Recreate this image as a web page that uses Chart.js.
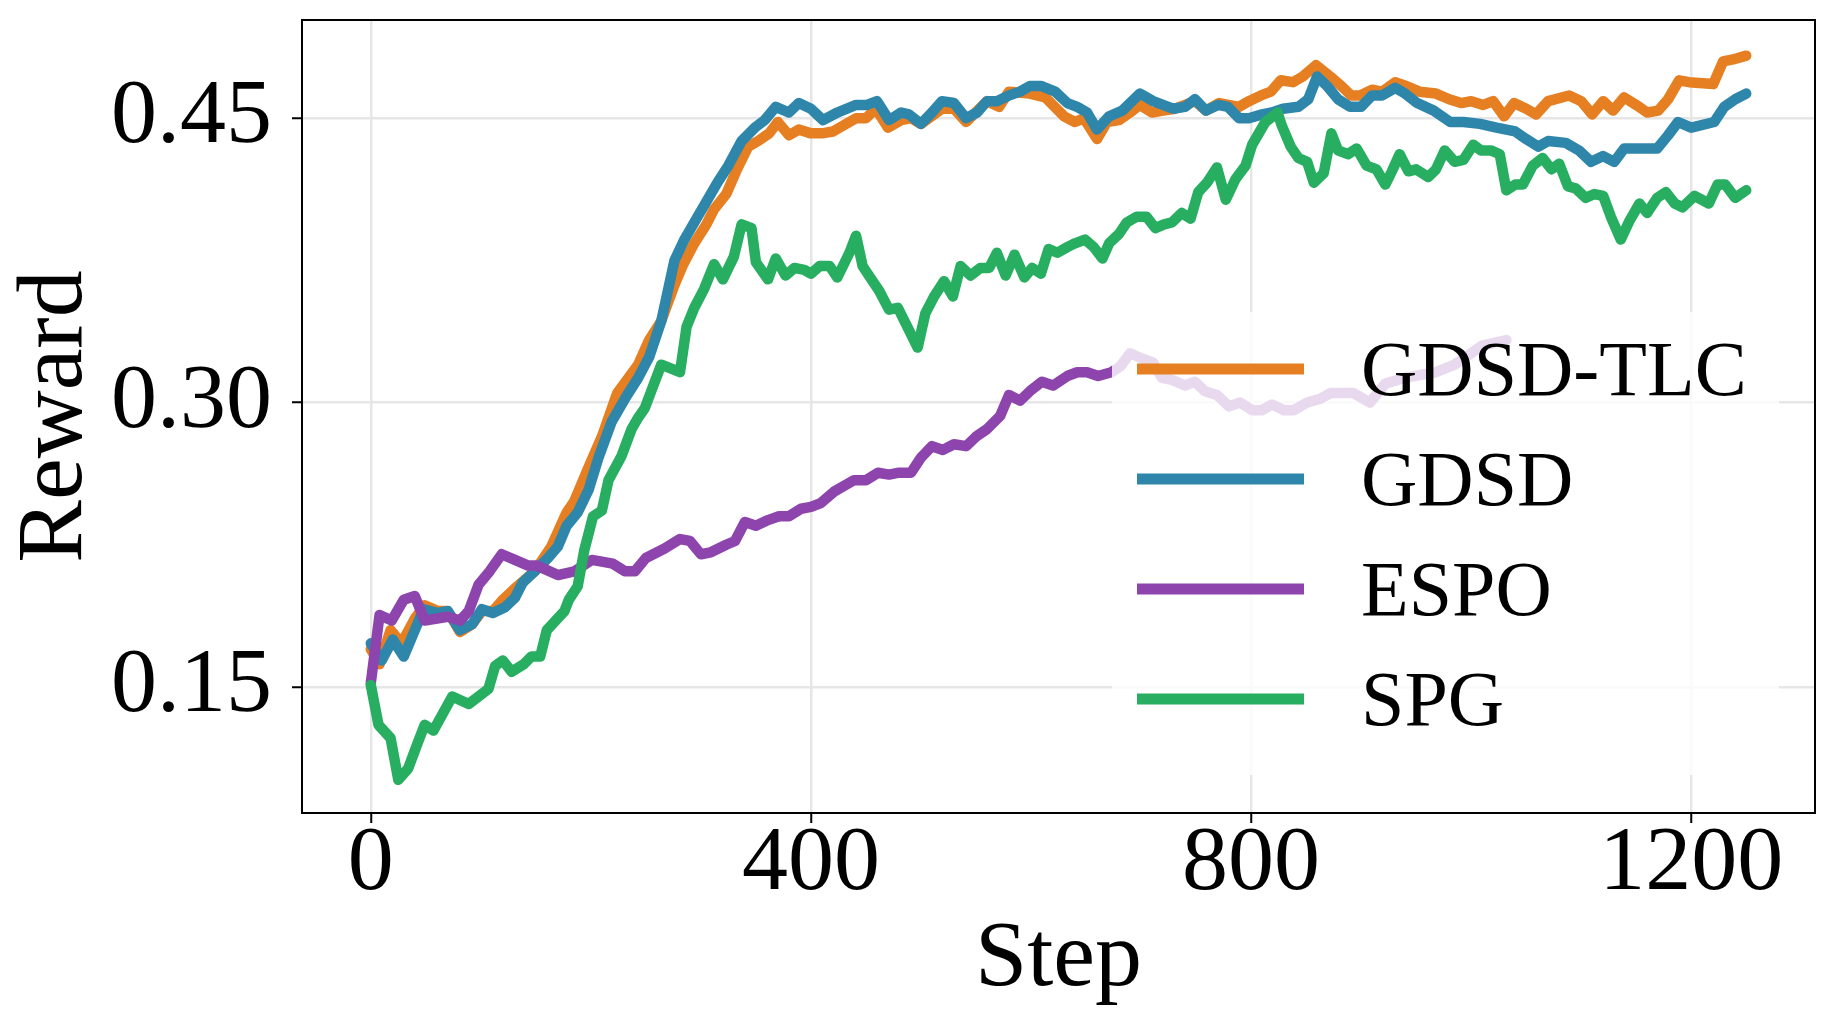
<!DOCTYPE html>
<html>
<head>
<meta charset="utf-8">
<script src="https://cdn.jsdelivr.net/npm/chart.js@4.4.0/dist/chart.umd.min.js"></script>
<style>
  html, body { margin: 0; padding: 0; background: #fff; }
</style>
</head>
<body>
<canvas id="rewardChart" width="1836" height="1036"></canvas>
<script>
// tick positions
const xTickValues = [0, 400, 800, 1200];
const yTickValues = [0.15, 0.30, 0.45];

const seriesNames = ['GDSD-TLC', 'GDSD', 'ESPO', 'SPG'];
const seriesColors = ['#E67E22', '#2E86AB', '#8E44AD', '#27AE60'];

// GDSD-TLC
const gdsdTlcSteps = [0, 8, 18, 28, 40, 49, 61, 70, 81, 92, 101, 111, 120, 133, 149, 164, 178, 185, 198, 210,
  224, 243, 253, 264, 276, 284, 294, 305, 312, 323, 332, 343, 352, 362, 370, 380, 389, 400, 410, 420,
  441, 450, 459, 470, 482, 491, 500, 519, 530, 541, 560, 571, 580, 599, 613, 630, 640, 648, 660, 669,
  680, 690, 699, 710, 720, 731, 749, 759, 771, 789, 798, 809, 818, 827, 838, 847, 859, 872, 882, 891,
  899, 910, 919, 931, 941, 953, 968, 980, 991, 1000, 1011, 1020, 1030, 1039, 1050, 1059, 1070, 1089, 1100, 1110,
  1120, 1129, 1139, 1150, 1160, 1170, 1179, 1189, 1198, 1220, 1229, 1238, 1250];
const gdsdTlcReward = [0.170, 0.162, 0.180, 0.173, 0.186, 0.193, 0.190, 0.190, 0.179, 0.183, 0.190, 0.190, 0.196, 0.203, 0.211, 0.224, 0.242, 0.248, 0.266, 0.282,
  0.305, 0.320, 0.333, 0.343, 0.362, 0.373, 0.384, 0.394, 0.402, 0.410, 0.422, 0.435, 0.438, 0.442, 0.448, 0.441, 0.444, 0.442, 0.442, 0.443,
  0.450, 0.450, 0.455, 0.445, 0.449, 0.450, 0.447, 0.455, 0.455, 0.448, 0.459, 0.456, 0.464, 0.463, 0.461, 0.451, 0.448, 0.450, 0.439, 0.448,
  0.449, 0.453, 0.457, 0.453, 0.454, 0.455, 0.459, 0.454, 0.458, 0.456, 0.459, 0.462, 0.464, 0.470, 0.469, 0.472, 0.478, 0.472, 0.467, 0.462,
  0.462, 0.465, 0.464, 0.469, 0.467, 0.464, 0.463, 0.460, 0.458, 0.459, 0.457, 0.459, 0.451, 0.458, 0.455, 0.452, 0.459, 0.462, 0.459, 0.452,
  0.459, 0.454, 0.461, 0.457, 0.453, 0.454, 0.460, 0.470, 0.469, 0.468, 0.480, 0.481, 0.483];

// GDSD
const gdsdSteps = [0, 10, 20, 30, 48, 61, 70, 81, 92, 101, 111, 122, 131, 138, 149, 161, 170, 178, 188, 198,
  207, 219, 232, 243, 253, 264, 276, 285, 296, 305, 315, 325, 337, 349, 358, 368, 380, 389, 400, 411,
  424, 441, 451, 460, 471, 482, 489, 500, 510, 519, 530, 541, 551, 560, 569, 580, 590, 599, 609, 622,
  633, 642, 651, 660, 671, 683, 699, 711, 729, 740, 749, 759, 770, 779, 789, 798, 810, 819, 829, 843,
  852, 860, 869, 879, 890, 900, 910, 919, 931, 940, 951, 966, 981, 993, 1008, 1023, 1040, 1050, 1061, 1070,
  1086, 1098, 1109, 1120, 1130, 1139, 1153, 1169, 1179, 1188, 1200, 1221, 1230, 1240, 1250];
const gdsdReward = [0.173, 0.164, 0.175, 0.166, 0.191, 0.189, 0.190, 0.180, 0.183, 0.191, 0.189, 0.192, 0.197, 0.205, 0.211, 0.218, 0.224, 0.235, 0.242, 0.254,
  0.271, 0.290, 0.303, 0.313, 0.324, 0.343, 0.375, 0.386, 0.397, 0.406, 0.416, 0.425, 0.438, 0.445, 0.449, 0.456, 0.453, 0.458, 0.455, 0.449,
  0.453, 0.457, 0.457, 0.459, 0.449, 0.453, 0.452, 0.447, 0.453, 0.459, 0.458, 0.450, 0.453, 0.459, 0.459, 0.462, 0.464, 0.467, 0.467, 0.464,
  0.458, 0.456, 0.453, 0.444, 0.451, 0.454, 0.463, 0.459, 0.455, 0.456, 0.460, 0.454, 0.457, 0.456, 0.450, 0.450, 0.452, 0.453, 0.455, 0.456,
  0.460, 0.472, 0.467, 0.460, 0.456, 0.456, 0.462, 0.462, 0.466, 0.463, 0.458, 0.454, 0.448, 0.448, 0.447, 0.445, 0.443, 0.439, 0.435, 0.438,
  0.437, 0.433, 0.427, 0.430, 0.427, 0.434, 0.434, 0.434, 0.441, 0.448, 0.445, 0.448, 0.456, 0.460, 0.463];

// ESPO
const espoSteps = [0, 8, 19, 30, 40, 49, 70, 81, 89, 98, 108, 119, 131, 143, 151, 170, 185, 201, 220, 231,
  240, 250, 267, 281, 290, 300, 309, 323, 331, 340, 350, 361, 371, 380, 391, 400, 409, 421, 439, 450,
  461, 471, 480, 491, 500, 510, 520, 530, 541, 550, 560, 572, 580, 590, 599, 610, 620, 633, 642, 651,
  661, 673, 681, 690, 702, 711, 719, 728, 740, 749, 758, 769, 780, 790, 801, 810, 819, 830, 839, 851,
  863, 872, 893, 908, 922, 939, 968, 985, 1010, 1032];
const espoReward = [0.152, 0.188, 0.185, 0.196, 0.198, 0.185, 0.187, 0.185, 0.190, 0.204, 0.211, 0.220, 0.217, 0.214, 0.214, 0.209, 0.211, 0.217, 0.215, 0.211,
  0.211, 0.218, 0.223, 0.228, 0.227, 0.220, 0.221, 0.225, 0.227, 0.237, 0.235, 0.238, 0.240, 0.240, 0.244, 0.245, 0.247, 0.253, 0.259, 0.259,
  0.263, 0.262, 0.263, 0.263, 0.271, 0.277, 0.275, 0.278, 0.277, 0.282, 0.286, 0.293, 0.304, 0.301, 0.306, 0.311, 0.309, 0.314, 0.316, 0.316,
  0.314, 0.316, 0.319, 0.326, 0.323, 0.321, 0.313, 0.312, 0.309, 0.311, 0.306, 0.304, 0.298, 0.300, 0.296, 0.296, 0.299, 0.296, 0.296, 0.300,
  0.302, 0.305, 0.305, 0.300, 0.310, 0.313, 0.316, 0.320, 0.330, 0.333];

// SPG
const spgSteps = [0, 7, 18, 25, 34, 43, 49, 57, 74, 89, 107, 113, 120, 128, 139, 146, 154, 160, 176, 180,
  188, 194, 202, 210, 216, 228, 237, 243, 249, 264, 281, 287, 294, 303, 312, 320, 330, 337, 346, 350,
  361, 368, 377, 385, 394, 400, 408, 417, 424, 435, 441, 447, 455, 462, 471, 479, 497, 504, 512, 521,
  529, 536, 545, 554, 562, 569, 577, 585, 594, 601, 609, 616, 624, 633, 640, 649, 657, 665, 671, 680,
  687, 696, 705, 713, 721, 728, 737, 745, 752, 760, 769, 777, 786, 795, 801, 813, 824, 828, 836, 843,
  851, 857, 866, 873, 879, 888, 896, 905, 914, 922, 928, 935, 943, 950, 961, 968, 976, 985, 993, 1002,
  1009, 1018, 1026, 1032, 1040, 1047, 1056, 1065, 1073, 1080, 1088, 1095, 1104, 1112, 1120, 1127, 1136, 1144, 1153, 1160,
  1169, 1177, 1185, 1192, 1203, 1216, 1224, 1231, 1240, 1250];
const spgReward = [0.151, 0.130, 0.123, 0.101, 0.107, 0.121, 0.130, 0.127, 0.145, 0.141, 0.149, 0.161, 0.164, 0.158, 0.162, 0.166, 0.166, 0.180, 0.190, 0.196,
  0.203, 0.222, 0.240, 0.243, 0.259, 0.272, 0.286, 0.292, 0.297, 0.320, 0.316, 0.340, 0.350, 0.360, 0.373, 0.365, 0.377, 0.394, 0.392, 0.374,
  0.365, 0.376, 0.367, 0.371, 0.370, 0.368, 0.372, 0.372, 0.366, 0.379, 0.388, 0.372, 0.365, 0.359, 0.349, 0.350, 0.329, 0.347, 0.356, 0.364,
  0.356, 0.372, 0.367, 0.371, 0.371, 0.379, 0.367, 0.378, 0.366, 0.371, 0.368, 0.381, 0.379, 0.382, 0.384, 0.386, 0.382, 0.376, 0.384, 0.389,
  0.395, 0.398, 0.398, 0.392, 0.394, 0.395, 0.400, 0.397, 0.411, 0.416, 0.424, 0.407, 0.418, 0.425, 0.436, 0.448, 0.453, 0.446, 0.435, 0.429,
  0.427, 0.416, 0.421, 0.442, 0.433, 0.431, 0.434, 0.425, 0.423, 0.415, 0.422, 0.431, 0.422, 0.423, 0.419, 0.423, 0.433, 0.427, 0.428, 0.436,
  0.433, 0.433, 0.431, 0.412, 0.415, 0.415, 0.425, 0.429, 0.423, 0.426, 0.414, 0.413, 0.408, 0.410, 0.409, 0.398, 0.386, 0.396, 0.405, 0.400,
  0.408, 0.411, 0.405, 0.403, 0.409, 0.405, 0.415, 0.415, 0.408, 0.412];

function toPoints(steps, values) {
    return steps.map((s, i) => ({ x: s, y: values[i] }));
}

const allSteps = [gdsdTlcSteps, gdsdSteps, espoSteps, spgSteps];
const allRewards = [gdsdTlcReward, gdsdReward, espoReward, spgReward];

const FONT = "'Liberation Serif', 'Times New Roman', serif";

// legend with a half transparent white box, drawn on top of the lines
const boxLegend = {
    id: 'boxLegend',
    afterDatasetsDraw(chart) {
        const ctx = chart.ctx;
        const a = chart.chartArea;
        const boxW = 667, boxH = 463;
        const bx = a.right - 36 - boxW;
        const by = a.bottom - 38 - boxH;
        ctx.save();
        ctx.fillStyle = 'rgba(255,255,255,0.8)';
        ctx.fillRect(bx, by, boxW, boxH);
        ctx.font = '78px ' + FONT;
        ctx.textAlign = 'left';
        ctx.textBaseline = 'alphabetic';
        chart.data.datasets.forEach((ds, i) => {
            const ly = by + 57 + i * 110;
            ctx.strokeStyle = ds.borderColor;
            ctx.lineWidth = 11;
            ctx.lineCap = 'butt';
            ctx.beginPath();
            ctx.moveTo(bx + 25, ly);
            ctx.lineTo(bx + 192, ly);
            ctx.stroke();
            ctx.fillStyle = '#000';
            ctx.fillText(ds.label, bx + 249, ly + 26);
        });
        // frame round the plot
        ctx.strokeStyle = '#000';
        ctx.lineWidth = 2;
        ctx.strokeRect(a.left, a.top, a.right - a.left, a.bottom - a.top);
        ctx.restore();
    }
};

const ctx = document.getElementById('rewardChart').getContext('2d');

const rewardChart = new Chart(ctx, {
    type: 'line',
    data: {
        datasets: seriesNames.map((name, i) => ({
            label: name,
            data: toPoints(allSteps[i], allRewards[i]),
            borderColor: seriesColors[i],
            backgroundColor: seriesColors[i],
            borderWidth: 10.5,
            borderJoinStyle: 'round',
            borderCapStyle: 'round',
            pointRadius: 0,
            tension: 0,
            fill: false,
            order: seriesNames.length - i
        }))
    },
    options: {
        responsive: false,
        animation: false,
        layout: {
            padding: { top: 20, right: 21, left: 0, bottom: 0 }
        },
        scales: {
            x: {
                type: 'linear',
                min: -62.5,
                max: 1312.5,
                afterFit: function (scale) {
                    scale.height = 223;
                    scale.paddingLeft = 0;
                    scale.paddingRight = 0;
                },
                afterBuildTicks: function (scale) {
                    scale.ticks = xTickValues.map(v => ({ value: v }));
                },
                grid: {
                    color: '#e6e6e6',
                    lineWidth: 2.5,
                    tickLength: 10,
                    tickColor: '#000',
                    tickWidth: 2
                },
                border: { display: false },
                ticks: {
                    color: '#000',
                    padding: -13,
                    maxRotation: 0,
                    font: { family: FONT, size: 92 },
                    callback: function (value) { return String(value); }
                },
                title: {
                    display: true,
                    text: 'Step',
                    color: '#000',
                    font: { family: FONT, size: 94 },
                    padding: { top: 0, bottom: 19 }
                }
            },
            y: {
                min: 0.0835,
                max: 0.5018,
                afterFit: function (scale) {
                    scale.width = 302;
                    scale.paddingTop = 0;
                    scale.paddingBottom = 0;
                },
                afterBuildTicks: function (scale) {
                    scale.ticks = yTickValues.map(v => ({ value: v }));
                },
                grid: {
                    color: '#e6e6e6',
                    lineWidth: 2.5,
                    tickLength: 10,
                    tickColor: '#000',
                    tickWidth: 2
                },
                border: { display: false },
                ticks: {
                    color: '#000',
                    padding: 20,
                    font: { family: FONT, size: 92 },
                    callback: function (value) { return value.toFixed(2); }
                },
                title: {
                    display: true,
                    text: 'Reward',
                    color: '#000',
                    font: { family: FONT, size: 94 },
                    padding: { top: 0, bottom: 0 }
                }
            }
        },
        plugins: {
            legend: { display: false },
            tooltip: { enabled: false }
        }
    },
    plugins: [boxLegend]
});
</script>
</body>
</html>
